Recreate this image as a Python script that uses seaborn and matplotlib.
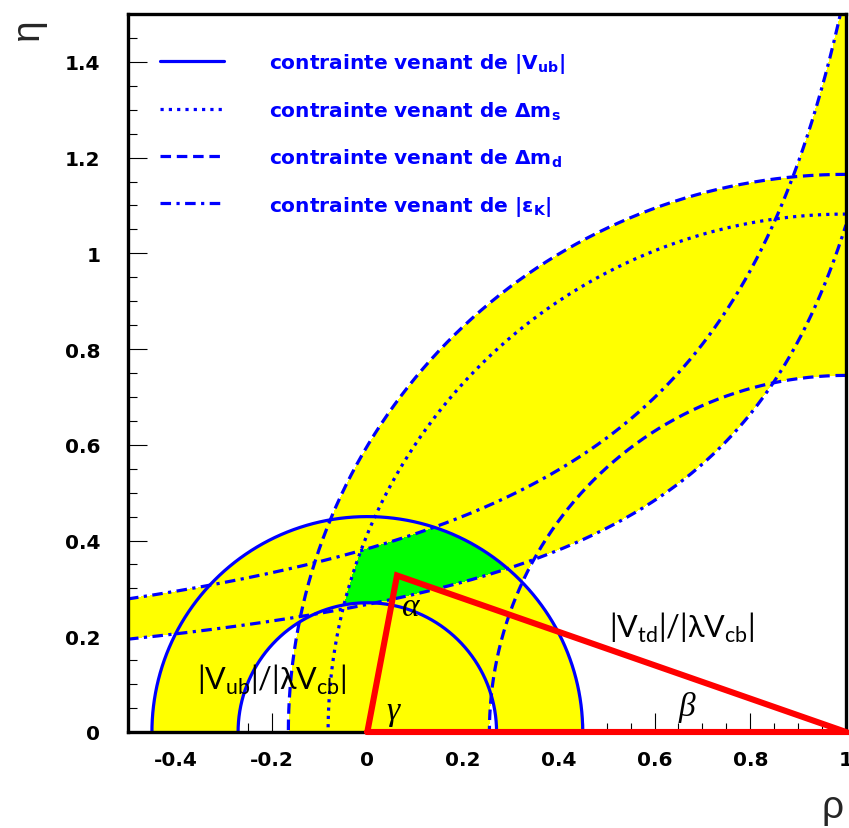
import numpy as np
import pandas as pd
import matplotlib
matplotlib.use("Agg")
import matplotlib.pyplot as plt
from matplotlib.ticker import MultipleLocator
import seaborn as sns

# ---------------- values ----------------
rho_range = [-0.5, 1.0]
eta_range = [0.0, 1.5]
vub_radii = [0.27, 0.45]            # |Vub| circles, centred on (0, 0)
dmd_radii = [0.745, 1.165]          # Delta m_d circles, centred on (1, 0)
dms_radius = [1.082]                # Delta m_s circle, centred on (1, 0)
epsk_a = [1.336, 1.327]             # |eps_K| hyperbolas: eta = b / (a - rho)
epsk_b = [0.356, 0.508]
triangle_rho = [0.0, 0.062, 1.0, 0.0]
triangle_eta = [0.0, 0.327, 0.0, 0.0]
xticks = [-0.4, -0.2, 0.0, 0.2, 0.4, 0.6, 0.8, 1.0]
xtick_labels = ["-0.4", "-0.2", "0", "0.2", "0.4", "0.6", "0.8", "1"]
yticks = [0.0, 0.2, 0.4, 0.6, 0.8, 1.0, 1.2, 1.4]
ytick_labels = ["0", "0.2", "0.4", "0.6", "0.8", "1", "1.2", "1.4"]
legend_labels = [
    "contrainte venant de |V$_{\\mathbf{ub}}$|",
    "contrainte venant de Δm$_{\\mathbf{s}}$",
    "contrainte venant de Δm$_{\\mathbf{d}}$",
    "contrainte venant de |ε$_{\\mathbf{K}}$|",
]
side_text = ["|V$_{\\mathrm{ub}}$|/|λV$_{\\mathrm{cb}}$|", "|V$_{\\mathrm{td}}$|/|λV$_{\\mathrm{cb}}$|"]
side_pos = [(-0.20, 0.111), (0.656, 0.219)]
angle_text = ["α", "γ", "β"]
angle_pos = [(0.090, 0.262), (0.054, 0.045), (0.668, 0.054)]

# ---------------- style ----------------
sns.set_theme(style="white")
plt.rcParams["font.family"] = ["DejaVu Sans"]
plt.rcParams["mathtext.fontset"] = "custom"
plt.rcParams["mathtext.bf"] = "DejaVu Sans:bold"
plt.rcParams["mathtext.rm"] = "Lato"
plt.rcParams["mathtext.it"] = "DejaVu Sans:italic"

BLUE = "#0000ff"
RED = "#ff0000"
LW = 2.3
styles = {
    "vub": "-",
    "dms": (0, (1.0, 1.6)),
    "dmd": (0, (3.3, 1.8)),
    "eps": (0, (3.3, 1.7, 1.0, 1.7)),
}

fig = plt.figure(figsize=(8.49, 8.29), dpi=100)
ax = fig.add_axes([128 / 849, (829 - 733) / 829, 718 / 849, 718 / 829])

# ---------------- filled regions ----------------
gx = np.linspace(rho_range[0], rho_range[1], 1600)
gy = np.linspace(eta_range[0], eta_range[1], 1600)
X, Y = np.meshgrid(gx, gy)
r0 = np.hypot(X, Y)
r1 = np.hypot(X - 1.0, Y)
in_vub = (r0 >= vub_radii[0]) & (r0 <= vub_radii[1])
in_dmd = (r1 >= dmd_radii[0]) & (r1 <= dmd_radii[1])
in_dms = r1 <= dms_radius[0]
lo = epsk_b[0] / (epsk_a[0] - X)
hi = epsk_b[1] / (epsk_a[1] - X)
in_eps = (Y >= lo) & (Y <= hi)
yellow = in_vub | in_dmd | in_eps
green = in_vub & in_dmd & in_dms & in_eps
rgba = np.zeros(X.shape + (4,))
rgba[yellow] = (1.0, 1.0, 0.0, 1.0)
rgba[green] = (0.0, 1.0, 0.0, 1.0)
ax.imshow(rgba, origin="lower", extent=[rho_range[0], rho_range[1], eta_range[0], eta_range[1]],
          aspect="auto", interpolation="nearest", zorder=1)

# ---------------- constraint curves ----------------
def draw(x, y, ls, zorder=3):
    df = pd.DataFrame({"rho": x, "eta": y})
    sns.lineplot(data=df, x="rho", y="eta", sort=False, estimator=None, ax=ax,
                 color=BLUE, linestyle=ls, linewidth=LW, zorder=zorder, legend=False)
    return ax.get_lines()[-1]

handles = []
t = np.linspace(0, np.pi, 600)
h = None
for r in vub_radii:
    h = draw(r * np.cos(t), r * np.sin(t), styles["vub"])
handles.append(h)
t2 = np.linspace(np.pi / 2, np.pi, 600)
for r in dms_radius:
    h = draw(1 + r * np.cos(t2), r * np.sin(t2), styles["dms"])
handles.append(h)
for r in dmd_radii:
    h = draw(1 + r * np.cos(t2), r * np.sin(t2), styles["dmd"])
handles.append(h)
rr = np.linspace(rho_range[0], rho_range[1], 800)
for a, b in zip(epsk_a, epsk_b):
    h = draw(rr, b / (a - rr), styles["eps"])
handles.append(h)

# ---------------- unitarity triangle ----------------
tri = pd.DataFrame({"rho": triangle_rho, "eta": triangle_eta})
sns.lineplot(data=tri, x="rho", y="eta", sort=False, estimator=None, ax=ax,
             color=RED, linewidth=4.4, zorder=6, legend=False)
ax.get_lines()[-1].set_clip_on(False)
ax.get_lines()[-1].set_solid_joinstyle("miter")

# ---------------- text ----------------
for s, (x, y) in zip(side_text, side_pos):
    ax.text(x, y, s, fontsize=22, ha="center", va="center", family=["Lato", "DejaVu Sans"],
            fontweight="normal", color="black", zorder=7)
for s, (x, y) in zip(angle_text, angle_pos):
    ax.text(x, y, s, fontsize=24, ha="center", va="center", family="Liberation Serif",
            style="italic", color="black", zorder=7)

leg = ax.legend(handles, legend_labels, loc="upper left", bbox_to_anchor=(0.0446, 0.949),
                frameon=False, borderpad=0, borderaxespad=0, handlelength=3.2,
                handletextpad=2.2, labelspacing=1.23,
                prop={"family": "DejaVu Sans", "weight": "bold", "size": 14.5})
for txt in leg.get_texts():
    txt.set_color(BLUE)
leg.set_zorder(8)

# ---------------- axes ----------------
ax.set_xlim(rho_range)
ax.set_ylim(eta_range)
ax.set_xlabel("")
ax.set_ylabel("")
ax.set_xticks(xticks)
ax.set_xticklabels(xtick_labels)
ax.set_yticks(yticks)
ax.set_yticklabels(ytick_labels)
ax.xaxis.set_minor_locator(MultipleLocator(0.05))
ax.yaxis.set_minor_locator(MultipleLocator(0.05))
ax.tick_params(which="major", direction="in", length=13.5, width=0.8, color="black",
               bottom=True, left=True, top=False, right=False, labelsize=14.5)
ax.tick_params(which="minor", direction="in", length=6.5, width=0.8, color="black",
               bottom=True, left=True, top=False, right=False)
ax.tick_params(axis="y", pad=20)
ax.tick_params(axis="x", pad=13)
for lbl in ax.get_xticklabels() + ax.get_yticklabels():
    lbl.set_fontweight("bold")
    lbl.set_color("black")
ax.set_axisbelow(True)
for sp in ax.spines.values():
    sp.set_visible(True)
    sp.set_color("black")
    sp.set_linewidth(2.4)
    sp.set_zorder(5)

fig.text(28 / 849, 1 - 29 / 829, "η", fontsize=28, rotation=90, ha="center", va="center",
         family="Liberation Sans")
fig.text(833 / 849, 1 - 808 / 829, "ρ", fontsize=28, ha="center", va="center",
         family="Liberation Sans")

fig.savefig("out.png", dpi=100)
